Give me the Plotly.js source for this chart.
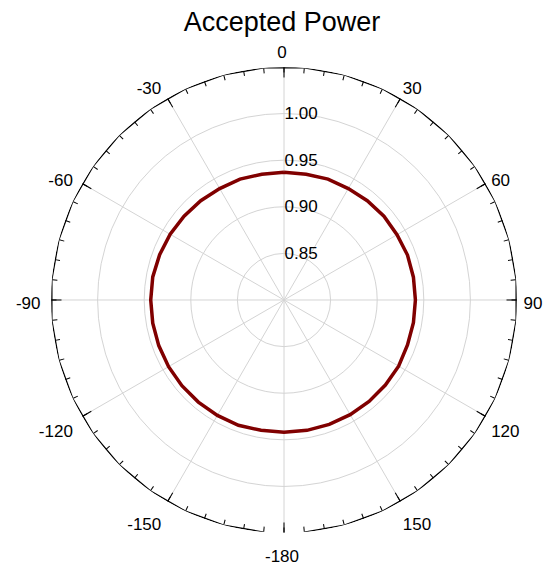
<!DOCTYPE html>
<html>
<head>
<meta charset="utf-8">
<script src="https://cdn.plot.ly/plotly-3.0.1.min.js"></script>
<style>html,body{margin:0;padding:0;background:#fff;}#chart{width:546px;height:565px;}</style>
</head>
<body>
<div id="chart"></div>
<script>
// Data: accepted power vs angle (degrees), sampled every 10 degrees
const thetaDeg = [0,10,20,30,40,50,60,70,80,90,100,110,120,130,140,150,160,170,180,
                  190,200,210,220,230,240,250,260,270,280,290,300,310,320,330,340,350,360];
const power = [0.937,0.937,0.938,0.938,0.939,0.940,0.940,0.941,0.941,0.941,0.941,0.941,0.942,
               0.942,0.942,0.942,0.942,0.942,0.942,0.942,0.943,0.943,0.943,0.943,0.943,0.943,
               0.943,0.943,0.943,0.942,0.941,0.940,0.939,0.938,0.938,0.937,0.937];

// Angular tick positions and labels
const angTickVals = [0,30,60,90,120,150,180,210,240,270,300,330];
const angTickText = ['0','30','60','90','120','150','-180','-150','-120','-90','-60','-30'];
const minorTickVals = [];
for (let a = 0; a < 360; a += 5) minorTickVals.push(a);

// Radial axis
const radialRange = [0.80, 1.05];
const radialTickVals = [0.85, 0.90, 0.95, 1.00];
const radialTickText = ['0.85', '0.90', '0.95', '1.00'];

// Outer frame (polyline with an open gap at -180)
const frameTheta = [];
for (let a = -175; a <= 175; a += 10) frameTheta.push(a);
const frameR = frameTheta.map(() => radialRange[1]);

const traces = [
  {type: 'scatterpolar', mode: 'lines', subplot: 'polar', theta: thetaDeg, r: power,
   line: {color: '#800000', width: 3.5}, hoverinfo: 'skip', showlegend: false},
  {type: 'scatterpolar', mode: 'lines', subplot: 'polar2', theta: frameTheta, r: frameR, cliponaxis: false,
   line: {color: '#000000', width: 1.3}, hoverinfo: 'skip', showlegend: false},
  {type: 'scatterpolar', mode: 'lines', subplot: 'polar3', theta: [], r: [],
   hoverinfo: 'skip', showlegend: false}
];

// main plot circle inside a slightly larger label ring
const mainDom = {x: [0.020747, 0.987552], y: [0.022822, 0.989627]};
const labelDom = {x: [0, 1], y: [0, 1]};
const fontFam = 'Liberation Sans, Arial, sans-serif';

const layout = {
  width: 546, height: 565,
  margin: {l: 41, r: 23, t: 62, b: 21},
  paper_bgcolor: '#ffffff', showlegend: false,
  title: {text: 'Accepted Power', x: 0.5, xanchor: 'center', xref: 'paper',
    y: 1 - 22/565, yanchor: 'middle', yref: 'container',
    font: {family: fontFam, size: 27, color: '#000'}},
  font: {family: fontFam, size: 17, color: '#000'},
  polar: {
    domain: mainDom, bgcolor: 'rgba(0,0,0,0)',
    angularaxis: {direction: 'clockwise', rotation: 90,
      tickmode: 'array', tickvals: angTickVals,
      ticks: 'inside', ticklen: 10, tickwidth: 1, tickcolor: '#000',
      showticklabels: false,
      showline: false, showgrid: true, gridcolor: '#d4d4d4', gridwidth: 1},
    radialaxis: {range: radialRange, angle: 90, tickangle: 90,
      tickmode: 'array', tickvals: radialTickVals, ticktext: radialTickText,
      showline: false, ticks: '', side: 'clockwise',
      showgrid: true, gridcolor: '#d4d4d4', gridwidth: 1,
      tickfont: {size: 17, color: '#000'}}
  },
  polar2: {
    domain: mainDom, bgcolor: 'rgba(0,0,0,0)',
    angularaxis: {direction: 'clockwise', rotation: 90,
      tickmode: 'array', tickvals: minorTickVals,
      ticks: 'inside', ticklen: 5, tickwidth: 1, tickcolor: '#000',
      showticklabels: false, showline: false, showgrid: false},
    radialaxis: {range: radialRange, visible: false, showgrid: false}
  },
  polar3: {
    domain: labelDom, bgcolor: 'rgba(0,0,0,0)',
    angularaxis: {direction: 'clockwise', rotation: 90,
      tickmode: 'array', tickvals: angTickVals, ticktext: angTickText,
      ticks: '', showline: false, showgrid: false,
      tickfont: {size: 17, color: '#000'}},
    radialaxis: {range: radialRange, visible: false, showgrid: false}
  }
};
Plotly.newPlot('chart', traces, layout, {displayModeBar: false, staticPlot: true});
</script>
</body>
</html>
